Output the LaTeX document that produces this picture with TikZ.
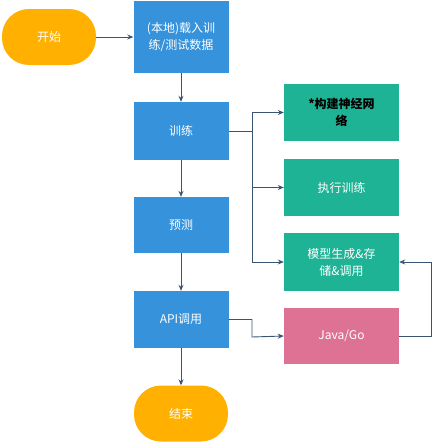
\documentclass[tikz,border=0pt]{standalone}
\usepackage{fontspec}
\setmainfont{Noto Sans CJK SC}
\usetikzlibrary{arrows.meta,positioning}
\definecolor{bblue}{HTML}{3592DB}
\definecolor{tgreen}{HTML}{1DB394}
\definecolor{pinkc}{HTML}{DD7294}
\definecolor{orangec}{HTML}{FFB000}
\definecolor{linec}{HTML}{3A5573}
\tikzset{
  box/.style={draw=none,fill=#1,text=white,minimum width=95pt,inner sep=0pt,align=center,font=\fontsize{12}{17}\selectfont},
  term/.style={draw=none,fill=orangec,text=white,minimum width=94pt,minimum height=56pt,rounded corners=27pt,inner sep=0pt,font=\fontsize{12}{17}\selectfont},
  conn/.style={draw=linec,line width=0.9pt,-{Stealth[length=6pt,width=5pt]}},
  plain/.style={draw=linec,line width=0.9pt}
}
\begin{document}
\begin{tikzpicture}[x=1pt,y=-1pt]
\useasboundingbox (0,0) rectangle (435,442);
\node[term] (start) at (49,37) {开始};
\node[box=bblue,minimum height=72pt] (load) at (181,37) {(本地)载入训\\练/测试数据};
\node[box=bblue,minimum height=58pt] (train) at (181,131) {训练};
\node[box=bblue,minimum height=56pt] (pred) at (181,225) {预测};
\node[box=bblue,minimum height=57pt] (api) at (181,319.5) {API调用};
\node[term] (end) at (181,413.5) {结束};
\node[box=tgreen,minimum width=115pt,minimum height=57pt,text=black,font=\fontsize{12}{17}\selectfont\bfseries] (build) at (341.5,112.5) {*构建神经网\\络};
\node[box=tgreen,minimum width=115pt,minimum height=57pt] (exec) at (341.5,187.5) {执行训练};
\node[box=tgreen,minimum width=115pt,minimum height=58pt] (model) at (341.5,262) {模型生成\&存\\储\&调用};
\node[box=pinkc,minimum width=115pt,minimum height=56pt] (java) at (341.5,336) {Java/Go};
\coordinate (tr) at (252,131);
\coordinate (ap) at (252,337);
\coordinate (jr) at (431,336);
\draw[conn] (start) -- (load);
\draw[conn] (load) -- (train);
\draw[conn] (train) -- (pred);
\draw[conn] (pred) -- (api);
\draw[conn] (api) -- (end);
\draw[plain] (train.east) -- (tr);
\draw[plain] (252,112.5) -- (252,262);
\draw[conn] (252,112.5) -- (build.west);
\draw[conn] (252,187.5) -- (exec.west);
\draw[conn] (252,262) -- (model.west);
\draw[conn] (api.east) -- (252,319.5) -- (ap) -- (java.west);
\draw[conn] (java.east) -- (jr) |- (model.east);
\end{tikzpicture}
\end{document}
